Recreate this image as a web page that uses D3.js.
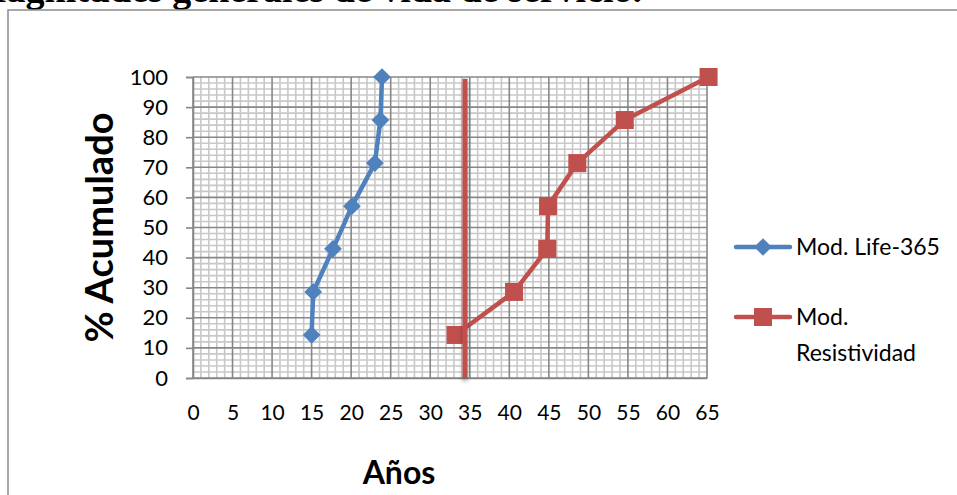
<!DOCTYPE html>
<html>
<head>
<meta charset="utf-8">
<script src="https://cdn.jsdelivr.net/npm/d3@7/dist/d3.min.js"></script>
<style>
  html, body { margin: 0; padding: 0; background: #fff; }
  svg { display: block; }
</style>
</head>
<body>
<svg id="chart" width="957" height="495"></svg>
<script>
// Cumulative percentage reached at each service-life estimate (years)
const pctAcumulado   = [14.3, 28.6, 42.9, 57.1, 71.4, 85.7, 100];
const aniosLife365   = [15.0, 15.2, 17.7, 20.1, 23.0, 23.7, 23.9];
const aniosResist    = [33.2, 40.6, 44.8, 44.9, 48.6, 54.6, 65.2];
// Vertical reference line drawn across the plot
const refLineX       = [34.4, 34.4];
const refLineY       = [0, 99.4];
const seriesNames    = ["Mod. Life-365", "Mod. Resistividad"];
const xTicks         = d3.range(0, 66, 5);
const yTicks         = d3.range(0, 101, 10);

const svg = d3.select("#chart");
const font = "Lato, 'Open Sans', sans-serif";

const x = d3.scaleLinear().domain([0, 65]).range([193, 707]);
const y = d3.scaleLinear().domain([0, 100]).range([378, 77]);

// Document heading above the chart frame (only its lower edge is on the page)
svg.append("text")
  .attr("x", 642).attr("y", 1.5)
  .attr("text-anchor", "end")
  .attr("font-family", "'Liberation Serif', serif")
  .attr("font-weight", "bold")
  .attr("font-size", 38)
  .attr("fill", "#000")
  .text("Magnitudes generales de vida de servicio.");

// Chart frame
svg.append("rect")
  .attr("x", 8).attr("y", 10)
  .attr("width", 970).attr("height", 500)
  .attr("fill", "#fff")
  .attr("stroke", "#8c8c8c").attr("stroke-width", 1.5);

const defs = svg.append("defs");
const shadow = defs.append("filter").attr("id", "shadow")
  .attr("filterUnits", "userSpaceOnUse")
  .attr("x", 0).attr("y", 0).attr("width", 957).attr("height", 495);
shadow.append("feDropShadow")
  .attr("dx", 0).attr("dy", 3).attr("stdDeviation", 2.2)
  .attr("flood-color", "#000").attr("flood-opacity", 0.35);

// Minor grid
const g = svg.append("g");
g.selectAll("line.vminor").data(d3.range(0, 66, 1).filter(d => d % 5 !== 0)).join("line")
  .attr("x1", d => x(d)).attr("x2", d => x(d))
  .attr("y1", y(0)).attr("y2", y(100))
  .attr("stroke", "#c8c8c8").attr("stroke-width", 1.6);
g.selectAll("line.hminor").data(d3.range(0, 101, 2).filter(d => d % 10 !== 0)).join("line")
  .attr("x1", x(0)).attr("x2", x(65))
  .attr("y1", d => y(d)).attr("y2", d => y(d))
  .attr("stroke", "#c8c8c8").attr("stroke-width", 1.6);

// Major grid
g.selectAll("line.vmajor").data(xTicks).join("line")
  .attr("x1", d => x(d)).attr("x2", d => x(d))
  .attr("y1", y(0)).attr("y2", y(100))
  .attr("stroke", "#878787").attr("stroke-width", 1.6);
g.selectAll("line.hmajor").data(yTicks).join("line")
  .attr("x1", x(0)).attr("x2", x(65))
  .attr("y1", d => y(d)).attr("y2", d => y(d))
  .attr("stroke", "#878787").attr("stroke-width", 1.6);

// Axes
const yAxis = d3.axisLeft(y).tickValues(yTicks).tickSize(7).tickPadding(6);
const ya = svg.append("g").attr("transform", `translate(${x(0)},0)`).call(yAxis);
ya.select(".domain").attr("stroke", "#878787").attr("stroke-width", 1.6);
ya.selectAll(".tick line").attr("stroke", "#878787").attr("stroke-width", 1.6);
ya.selectAll(".tick text").attr("font-family", font).attr("font-size", 22).attr("fill", "#000")
  .attr("dx", "-12");

const xAxis = d3.axisBottom(x).tickValues(xTicks).tickSize(0).tickPadding(27);
const xa = svg.append("g").attr("transform", `translate(0,${y(0)})`).call(xAxis);
xa.select(".domain").attr("stroke", "#878787").attr("stroke-width", 1.6);
xa.selectAll(".tick text").attr("font-family", font).attr("font-size", 21).attr("fill", "#000");

// Axis titles
svg.append("text")
  .attr("transform", `translate(113,${(y(0) + y(100)) / 2}) rotate(-90)`)
  .attr("text-anchor", "middle")
  .attr("font-family", font).attr("font-weight", "bold").attr("font-size", 38)
  .attr("fill", "#000")
  .text("% Acumulado");
svg.append("text")
  .attr("x", 399).attr("y", 484)
  .attr("text-anchor", "middle")
  .attr("font-family", font).attr("font-weight", "bold").attr("font-size", 32)
  .attr("fill", "#000")
  .text("Años");

const blue = "#4f81bd", red = "#c0504d";
const line = d3.line().x(d => x(d[0])).y(d => y(d[1]));

const lifeData = aniosLife365.map((a, i) => [a, pctAcumulado[i]]);
const resData  = aniosResist.map((a, i) => [a, pctAcumulado[i]]);

const diamond = d3.symbol().type(d3.symbolDiamond2).size(200);

// Mod. Life-365
svg.append("path").datum(lifeData)
  .attr("d", line).attr("fill", "none")
  .attr("stroke", blue).attr("stroke-width", 4.5).attr("stroke-linejoin", "round");
svg.selectAll("path.dia").data(lifeData).join("path")
  .attr("transform", d => `translate(${x(d[0])},${y(d[1])})`)
  .attr("d", diamond).attr("fill", blue);

// Mod. Resistividad
svg.append("path").datum(resData)
  .attr("d", line).attr("fill", "none")
  .attr("stroke", red).attr("stroke-width", 4.5).attr("stroke-linejoin", "round");
svg.selectAll("rect.sq").data(resData).join("rect")
  .attr("x", d => x(d[0]) - 9).attr("y", d => y(d[1]) - 9)
  .attr("width", 18).attr("height", 18).attr("fill", red);

// Reference line
svg.append("line")
  .attr("x1", x(refLineX[0])).attr("x2", x(refLineX[1]))
  .attr("y1", y(refLineY[0])).attr("y2", y(refLineY[1]))
  .attr("stroke", red).attr("stroke-width", 5)
  .attr("filter", "url(#shadow)");

// Legend
const lg = svg.append("g").attr("font-family", font).attr("font-size", 23).attr("fill", "#000");
lg.append("line").attr("x1", 736).attr("x2", 790).attr("y1", 247).attr("y2", 247)
  .attr("stroke", blue).attr("stroke-width", 4.5).attr("stroke-linecap", "round");
lg.append("path").attr("transform", "translate(763,247)").attr("d", diamond).attr("fill", blue);
lg.append("text").attr("x", 796).attr("y", 255).text(seriesNames[0]);

lg.append("line").attr("x1", 736).attr("x2", 790).attr("y1", 317).attr("y2", 317)
  .attr("stroke", red).attr("stroke-width", 4.5).attr("stroke-linecap", "round");
lg.append("rect").attr("x", 754).attr("y", 308).attr("width", 18).attr("height", 18).attr("fill", red);
const parts = seriesNames[1].split(" ");
lg.append("text").attr("x", 796).attr("y", 325).text(parts[0]);
lg.append("text").attr("x", 796).attr("y", 361).text(parts[1]);
</script>
</body>
</html>
